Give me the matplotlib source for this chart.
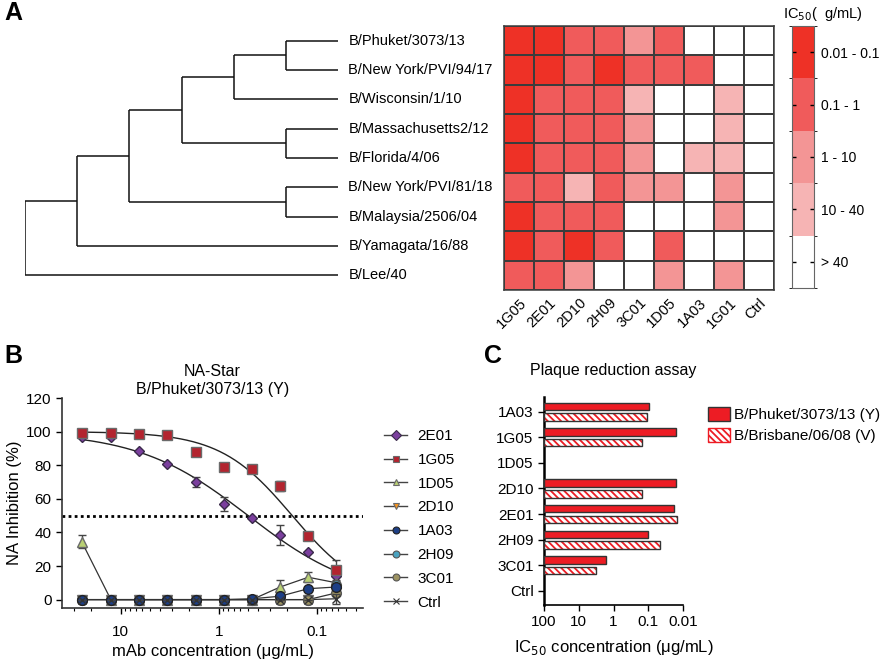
import numpy as np
import matplotlib
matplotlib.use('Agg')
import matplotlib.pyplot as plt
from matplotlib.colors import ListedColormap, BoundaryNorm
from matplotlib.patches import Patch
from matplotlib.lines import Line2D
from matplotlib.ticker import FixedLocator, FixedFormatter, NullLocator

plt.rcParams['font.family'] = ['Liberation Sans', 'DejaVu Sans']
plt.rcParams['hatch.linewidth'] = 1.3

W, H = 880, 660

# ---------------- panel A data
tree = [[[[[["B/Phuket/3073/13", "B/New York/PVI/94/17"], "B/Wisconsin/1/10"],
           ["B/Massachusetts2/12", "B/Florida/4/06"]],
          ["B/New York/PVI/81/18", "B/Malaysia/2506/04"]],
         "B/Yamagata/16/88"],
        "B/Lee/40"]
mabs = ["1G05", "2E01", "2D10", "2H09", "3C01", "1D05", "1A03", "1G01", "Ctrl"]
# 4 = 0.01-0.1 ug/mL ... 0 = >40 ug/mL
ic50_levels = [
    [4, 4, 3, 3, 2, 3, 0, 0, 0],
    [4, 4, 3, 4, 3, 3, 3, 0, 0],
    [4, 3, 3, 3, 1, 0, 0, 1, 0],
    [4, 3, 3, 3, 2, 0, 0, 1, 0],
    [4, 3, 3, 3, 2, 0, 1, 1, 0],
    [3, 3, 1, 3, 2, 2, 0, 2, 0],
    [4, 3, 3, 3, 0, 0, 0, 2, 0],
    [4, 3, 4, 3, 0, 3, 0, 0, 0],
    [3, 3, 2, 0, 0, 2, 0, 2, 0],
]
level_labels = ["> 40", "10 - 40", "1 - 10", "0.1 - 1", "0.01 - 0.1"]
level_colors = ["#ffffff", "#f6b4b4", "#f39595", "#f05b5b", "#ee3126"]

# ---------------- panel B data
conc = [25, 12.6, 6.45, 3.34, 1.72, 0.89, 0.457, 0.236, 0.122, 0.063]
series_b = ["2E01", "1G05", "1D05", "2D10", "1A03", "2H09", "3C01", "Ctrl"]
inh = {
    "2E01": [97, 97, 88.7, 81, 69.9, 57, 48.3, 38.4, 28.1, 13.9],
    "1G05": [99.2, 99, 98.6, 98, 87.7, 79.2, 77.6, 67.7, 37.6, 17.4],
    "1D05": [34.5, 0, 0, 0, 0, 0, 0, 7.5, 13.3, 10],
    "2D10": [0, 0, 0, 0, 0, 0, 0, 0, 0, 6],
    "1A03": [0, 0, 0, 0, 0, 0, 0.5, 2, 6.5, 7.5],
    "2H09": [0, 0, 0, 0, 0, 0, 0, 0, 0, 8.5],
    "3C01": [0, 0, 0, 0, 0, 0, 0, 0, 0, 4],
    "Ctrl": [0, 0, 0, 0, 0, 0, 0, 0, 0, 0.5],
}
err = {
    "2E01": [0, 0, 0, 0, 3, 4, 0, 6, 0, 3],
    "1G05": [0, 0, 0, 0, 0, 0, 0, 3, 0, 6],
    "1D05": [4, 0, 0, 0, 0, 0, 0, 4, 3, 0],
    "Ctrl": [0, 0, 0, 0, 0, 0, 0, 0, 0, 3],
}
fitted = ["2E01", "1G05"]
styles = {
    "2E01": dict(marker='D', mfc='#7b3f9e', mec='#3a2a4a', ms=5.5),
    "1G05": dict(marker='s', mfc='#b3242f', mec='#6a6a6a', ms=6.5),
    "1D05": dict(marker='^', mfc='#b9d073', mec='#6a6a6a', ms=7),
    "2D10": dict(marker='v', mfc='#f7941d', mec='#6a6a6a', ms=7),
    "1A03": dict(marker='o', mfc='#1d3f86', mec='#222222', ms=7),
    "2H09": dict(marker='o', mfc='#4aa3c0', mec='#555555', ms=7),
    "3C01": dict(marker='o', mfc='#9d9362', mec='#555555', ms=7),
    "Ctrl": dict(marker='x', mfc='#333333', mec='#333333', ms=6),
}

# ---------------- panel C data
prr_mabs = ["1A03", "1G05", "1D05", "2D10", "2E01", "2H09", "3C01", "Ctrl"]
ic50_phuket = [0.095, 0.0155, np.nan, 0.0155, 0.0183, 0.1, 1.66, np.nan]
ic50_brisbane = [0.112, 0.147, np.nan, 0.153, 0.0144, 0.045, 3.16, np.nan]


def box(l, t, r, b):
    return [l / W, 1 - b / H, (r - l) / W, (b - t) / H]


fig = plt.figure(figsize=(8.8, 6.6), dpi=100)

# ---------------- A: tree
axt = fig.add_axes(box(25, 26, 338, 290))
leaves, segs = [], []


def layout(node):
    if isinstance(node, str):
        leaves.append(node)
        return 6, len(leaves) - 0.5
    kids = [layout(c) for c in node]
    x = min(k[0] for k in kids) - 1
    ys = [k[1] for k in kids]
    for kx, ky in kids:
        segs.append(([x, kx], [ky, ky]))
    segs.append(([x, x], [min(ys), max(ys)]))
    return x, float(np.mean(ys))


layout(tree)
for xs, ys in segs:
    axt.plot(xs, ys, color='#111111', lw=1.1, solid_capstyle='butt')
for i, name in enumerate(leaves):
    axt.text(6.2, i + 0.5, name, va='center', ha='left', fontsize=10.5)
axt.set_xlim(0, 6)
axt.set_ylim(9, 0)
axt.axis('off')

# ---------------- A: heatmap
axh = fig.add_axes(box(504, 26, 774, 290))
cmap = ListedColormap(level_colors)
norm = BoundaryNorm(np.arange(-0.5, 5.5, 1), cmap.N)
mesh = axh.pcolormesh(np.array(ic50_levels), cmap=cmap, norm=norm,
                      edgecolors='#3c3c3c', linewidth=1.1)
axh.set_ylim(9, 0)
axh.set_xlim(0, 9)
axh.set_yticks([])
axh.set_xticks(np.arange(9) + 0.5)
axh.set_xticklabels(mabs, rotation=45, ha='right', rotation_mode='anchor', fontsize=10.5)
axh.tick_params(axis='x', length=0, pad=4)
for s in axh.spines.values():
    s.set_color('#3c3c3c')
    s.set_linewidth(1.1)

cax = fig.add_axes(box(792, 26, 814, 288))
cb = fig.colorbar(mesh, cax=cax, ticks=range(5))
cb.set_ticklabels(level_labels)
cb.outline.set_edgecolor('#666666')
cax.yaxis.set_ticks_position('both')
cax.tick_params(axis='y', direction='in', left=True, right=True, labelleft=False,
                labelright=True, length=3, width=1, labelsize=10, pad=5)
fig.text(783 / W, 1 - 5 / H, "IC$_{50}$(  g/mL)", fontsize=10.5, va='top', ha='left')

# ---------------- B: NA-Star curves
axb = fig.add_axes(box(62, 398, 363, 608))
axb.set_xscale('log')


def fit_4pl(x, y):
    lx = np.log10(np.array(x))[None, None, :]
    c = np.linspace(-2, 1, 301)[:, None, None]
    h = np.linspace(0.3, 3, 271)[None, :, None]
    pred = 100 / (1 + 10 ** ((c - lx) * h))
    sse = ((pred - np.array(y)[None, None, :]) ** 2).sum(axis=2)
    i, j = np.unravel_index(np.argmin(sse), sse.shape)
    return c[i, 0, 0], h[0, j, 0]


xs_fit = np.logspace(np.log10(conc[0]), np.log10(conc[-1]), 200)
for name in series_b:
    if name in fitted:
        c, h = fit_4pl(conc, inh[name])
        axb.plot(xs_fit, 100 / (1 + 10 ** ((c - np.log10(xs_fit)) * h)),
                 color='#222222', lw=1, zorder=2)
    elif name in ("1D05", "1A03", "3C01", "Ctrl"):
        axb.plot(conc, inh[name], color='#333333', lw=0.9, zorder=2)

for name in series_b:
    st = styles[name]
    z = 6 if name == "1A03" else (7 if name == "Ctrl" else 4)
    e = err.get(name)
    if e is not None:
        axb.errorbar(conc, inh[name], yerr=e, fmt='none', ecolor='#444444',
                     elinewidth=1, capsize=3, capthick=1, zorder=z - 1)
    axb.plot(conc, inh[name], ls='none', marker=st['marker'], mfc=st['mfc'],
             mec=st['mec'], color=st['mec'], ms=st['ms'], mew=1, zorder=z)

axb.axhline(50, color='black', ls=(0, (1, 1.2)), lw=2, zorder=1)
axb.set_xlim(39.7, 0.0337)
axb.set_ylim(-5, 120)
axb.set_yticks(range(0, 121, 20))
axb.xaxis.set_major_locator(FixedLocator([10, 1, 0.1]))
axb.xaxis.set_major_formatter(FixedFormatter(["10", "1", "0.1"]))
axb.tick_params(axis='both', labelsize=11, direction='out', length=4, width=1)
axb.tick_params(axis='x', pad=8)
axb.tick_params(axis='x', which='minor', length=2.5, width=0.8)
for s in ("top", "right"):
    axb.spines[s].set_visible(False)
for s in ("left", "bottom"):
    axb.spines[s].set_linewidth(1.2)
    axb.spines[s].set_color('#333333')
axb.set_ylabel("NA Inhibition (%)", fontsize=12, labelpad=3)
axb.set_xlabel("mAb concentration (\u03bcg/mL)", fontsize=12, labelpad=4)
axb.set_title("NA-Star\nB/Phuket/3073/13 (Y)", fontsize=11.5, linespacing=1.25, pad=3)

handles_b = [Line2D([], [], color='#444444', lw=1, marker=styles[n]['marker'],
                    mfc=styles[n]['mfc'], mec=styles[n]['mec'], ms=5, mew=0.8)
             for n in series_b]
fig.legend(handles_b, series_b, loc='upper left', bbox_to_anchor=(378 / W, 1 - 423 / H),
           frameon=False, fontsize=11, handlelength=1.5, labelspacing=0.64,
           handletextpad=0.7, borderaxespad=0)

# ---------------- C: plaque reduction
axc = fig.add_axes(box(544, 397, 683, 605))
axc.set_xscale('log')
ypos = np.arange(len(prr_mabs))
p = np.array(ic50_phuket)
b = np.array(ic50_brisbane)
mp = ~np.isnan(p)
mb = ~np.isnan(b)
axc.barh(ypos[mp] - 0.21, 100 - p[mp], left=p[mp], height=0.29,
         color='#ed1c24', edgecolor='#333333', linewidth=1, zorder=3)
axc.barh(ypos[mb] + 0.21, 100 - b[mb], left=b[mb], height=0.29,
         color='white', edgecolor='#ed1c24', hatch='\\\\\\\\\\', linewidth=0, zorder=3)
axc.barh(ypos[mb] + 0.21, 100 - b[mb], left=b[mb], height=0.29,
         fill=False, edgecolor='#333333', linewidth=1, zorder=4)
axc.set_xlim(100, 0.01)
axc.set_ylim(7.55, -0.57)
axc.set_yticks(ypos)
axc.set_yticklabels(prr_mabs)
axc.xaxis.set_major_locator(FixedLocator([100, 10, 1, 0.1, 0.01]))
axc.xaxis.set_major_formatter(FixedFormatter(["100", "10", "1", "0.1", "0.01"]))
axc.xaxis.set_minor_locator(NullLocator())
axc.tick_params(axis='both', labelsize=11, direction='out', length=4, width=1)
for s in ("top", "right"):
    axc.spines[s].set_visible(False)
axc.spines['left'].set_linewidth(1.8)
axc.spines['bottom'].set_linewidth(1.2)
axc.set_xlabel("IC$_{50}$ concentration (\u03bcg/mL)", fontsize=12, labelpad=6)
axc.set_title("Plaque reduction assay", fontsize=11.5, pad=16)

handles_c = [Patch(facecolor='#ed1c24', edgecolor='#333333', lw=1),
             Patch(facecolor='white', edgecolor='#ed1c24', hatch='\\\\\\\\\\', lw=1)]
fig.legend(handles_c, ["B/Phuket/3073/13 (Y)", "B/Brisbane/06/08 (V)"],
           loc='upper left', bbox_to_anchor=(702 / W, 1 - 401 / H), frameon=False,
           fontsize=11, handlelength=1.4, handleheight=1.0, handletextpad=0.3,
           labelspacing=0.4, borderaxespad=0)

# ---------------- panel letters
fig.text(4 / W, 1 - 1 / H, "A", fontsize=18, fontweight='bold', va='top')
fig.text(4 / W, 1 - 344 / H, "B", fontsize=18, fontweight='bold', va='top')
fig.text(484 / W, 1 - 344 / H, "C", fontsize=18, fontweight='bold', va='top')

fig.savefig("out.png", dpi=100)
